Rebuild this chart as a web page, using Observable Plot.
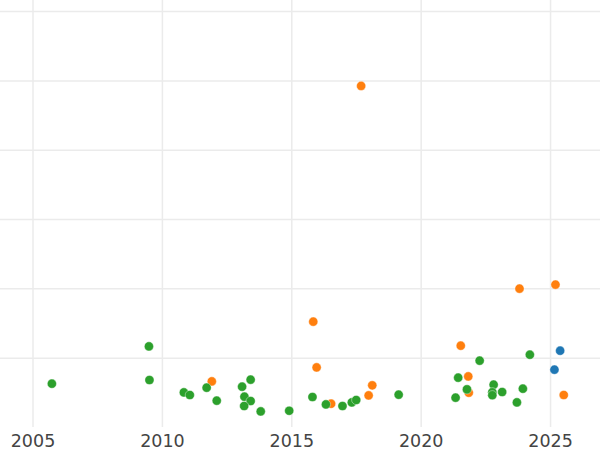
<!DOCTYPE html>
<html>
<head>
<meta charset="utf-8">
<script src="https://cdn.jsdelivr.net/npm/d3@7"></script>
<script src="https://cdn.jsdelivr.net/npm/@observablehq/plot@0.6"></script>
<style>
  html, body { margin: 0; padding: 0; background: #fff; }
  #chart svg { display: block; }
</style>
</head>
<body>
<div id="chart"></div>
<script>
// Series: year (x) and value (y)
const seriesAYears  = [2011.91, 2017.68, 2015.83, 2015.96, 2016.52, 2017.97, 2018.11, 2021.53, 2021.82, 2021.84, 2023.80, 2025.19, 2025.51];
const seriesAValues = [6.65, 49.28, 15.27, 8.67, 3.43, 4.63, 6.08, 11.80, 7.37, 5.02, 20.03, 20.61, 4.69];

const seriesBYears  = [2025.37, 2025.15];
const seriesBValues = [11.08, 8.34];

const seriesCYears  = [2005.73, 2009.48, 2009.50, 2010.83, 2011.06, 2011.71, 2012.10, 2013.08, 2013.41, 2013.17, 2013.41, 2013.16, 2013.80, 2014.90,
                       2015.80, 2016.32, 2016.96, 2017.32, 2017.49, 2019.13, 2021.33, 2021.43, 2021.77, 2022.26, 2022.80, 2022.75, 2022.75,
                       2023.13, 2023.70, 2023.93, 2024.20];
const seriesCValues = [6.32, 11.70, 6.85, 5.06, 4.69, 5.74, 3.87, 5.89, 6.90, 4.44, 3.82, 3.10, 2.32, 2.42,
                       4.40, 3.33, 3.10, 3.62, 3.97, 4.73, 4.30, 7.19, 5.50, 9.64, 6.18, 5.09, 4.66,
                       5.12, 3.62, 5.60, 10.50];

const xTicks = [2005, 2010, 2015, 2020, 2025];
const yTicks = [10, 20, 30, 40, 50, 60];
const seriesNames = ["Series A", "Series B", "Series C"];
const seriesColors = ["#ff7f0e", "#1f77b4", "#2ca02c"];

const rows = [];
[[seriesAYears, seriesAValues, seriesNames[0]], [seriesBYears, seriesBValues, seriesNames[1]], [seriesCYears, seriesCValues, seriesNames[2]]]
  .forEach(([xs, ys, s]) => xs.forEach((x, i) => rows.push({year: x, value: ys[i], series: s})));

const chart = Plot.plot({
  width: 600,
  height: 450,
  marginTop: 0,
  marginLeft: 0,
  marginRight: 0,
  marginBottom: 23,
  style: { fontFamily: "DejaVu Sans", fontSize: "17.5px", color: "#444", background: "#fff" },
  x: { domain: [2003.744, 2026.93], ticks: xTicks, tickFormat: d => String(d), tickSize: 0, tickPadding: 7, label: null },
  y: { domain: [0, 61.6], axis: null },
  color: { type: "ordinal", domain: seriesNames, range: seriesColors },
  marks: [
    Plot.gridX(xTicks, { stroke: "#ebebeb", strokeOpacity: 1, strokeWidth: 1.5 }),
    Plot.gridY(yTicks, { stroke: "#ebebeb", strokeOpacity: 1, strokeWidth: 1.5 }),
    Plot.axisX({ ticks: xTicks, tickFormat: d => String(d), tickSize: 0, tickPadding: 7, label: null, fill: "#444" }),
    Plot.dot(rows, { x: "year", y: "value", fill: "series", r: 4.6, stroke: "#fff", strokeWidth: 0.4 })
  ]
});
document.getElementById("chart").appendChild(chart);
</script>
</body>
</html>
